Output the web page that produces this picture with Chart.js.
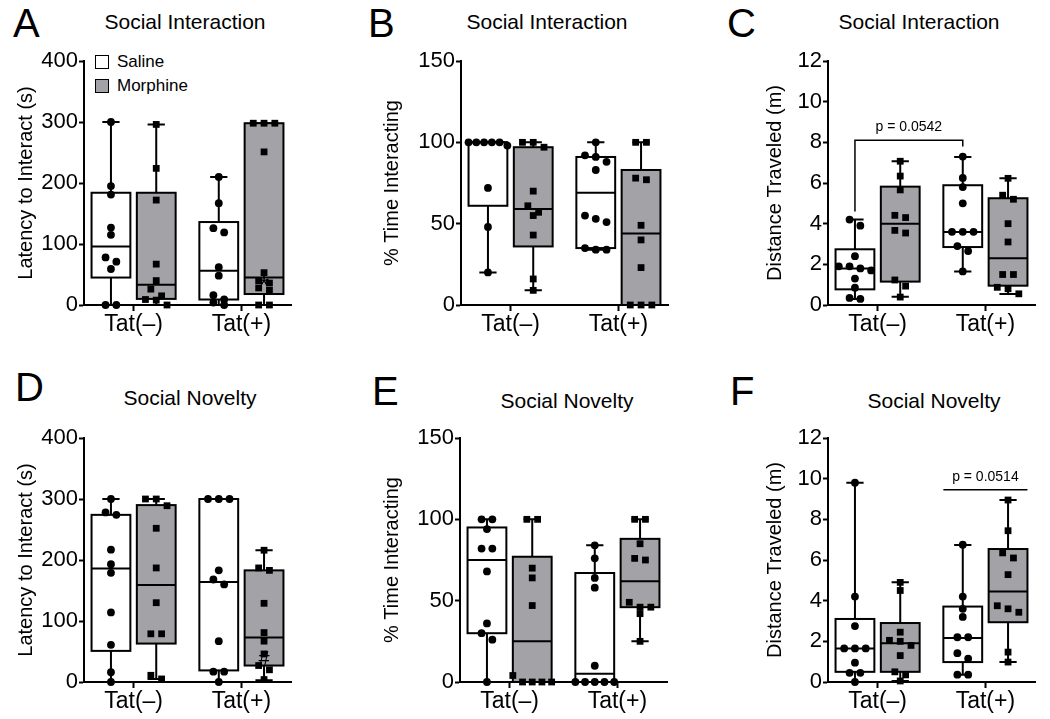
<!DOCTYPE html>
<html lang="en">
<head>
<meta charset="UTF-8">
<title>Social Interaction / Social Novelty</title>
<script src="https://cdn.jsdelivr.net/npm/chart.js"></script>
<style>
  body { margin:0; width:1050px; height:719px; position:relative; overflow:hidden; background:#fff;
         font-family:'Liberation Sans', Arial, sans-serif; color:#000; }
  canvas { position:absolute; }
  .letter { position:absolute; font-size:40px; line-height:40px; }
  .title { position:absolute; font-size:21px; line-height:21px; transform:translateX(-50%); white-space:nowrap; }
  .legend { position:absolute; font-size:17px; line-height:17px; white-space:nowrap; }
  .swatch { display:inline-block; width:12px; height:12px; border:1.5px solid #000; vertical-align:-2px; margin-right:8px; }
</style>
</head>
<body>
  <div class="letter" style="left:13px;top:3px">A</div>
  <div class="letter" style="left:368px;top:3px">B</div>
  <div class="letter" style="left:727px;top:3px">C</div>
  <div class="letter" style="left:15px;top:367px">D</div>
  <div class="letter" style="left:372px;top:371px">E</div>
  <div class="letter" style="left:730px;top:371px">F</div>

  <div class="title" style="left:185px;top:11px">Social Interaction</div>
  <div class="title" style="left:547px;top:11px">Social Interaction</div>
  <div class="title" style="left:919px;top:11px">Social Interaction</div>
  <div class="title" style="left:190px;top:387px">Social Novelty</div>
  <div class="title" style="left:567px;top:390px">Social Novelty</div>
  <div class="title" style="left:934px;top:390px">Social Novelty</div>

  <div class="legend" style="left:95px;top:53px"><span class="swatch" style="background:#fff"></span>Saline</div>
  <div class="legend" style="left:95px;top:77px"><span class="swatch" style="background:#a3a3a7"></span>Morphine</div>

  <canvas id="cA" width="300" height="341" style="left:0px;top:0px"></canvas>
  <canvas id="cB" width="300" height="341" style="left:377px;top:0px"></canvas>
  <canvas id="cC" width="300" height="341" style="left:744px;top:0px"></canvas>
  <canvas id="cD" width="300" height="341" style="left:0px;top:377px"></canvas>
  <canvas id="cE" width="300" height="341" style="left:376px;top:377px"></canvas>
  <canvas id="cF" width="300" height="341" style="left:744px;top:377px"></canvas>

<script>
const groupLabels = ['Tat(–)', 'Tat(+)'];
const groupPos = [1, 2];
const seriesNames = ['Saline', 'Morphine'];

// order of the four groups in every panel: Saline Tat(–), Morphine Tat(–), Saline Tat(+), Morphine Tat(+)
// boxes: [min, q1, median, q3, max]

// A - Social Interaction, latency (s)
const aSalNeg = [300, 195, 181, 127, 115, 78, 71, 59, 0, 0];
const aMorNeg = [296, 224, 172, 67, 40, 26, 15, 9, 8, 0];
const aSalPos = [210, 167, 126, 119, 62, 48, 16, 9, 4, 0];
const aMorPos = [298, 298, 298, 251, 53, 40, 36, 28, 24, 0, 0];
const aBoxes = [[0, 45, 96, 184, 300], [0, 10, 33, 184, 296], [0, 9, 56, 136, 210], [0, 18, 45, 298, 298]];

// B - Social Interaction, % time interacting
const bSalNeg = [100, 100, 100, 98, 100, 100, 72, 48, 20];
const bMorNeg = [100, 100, 97, 70, 61, 57, 55, 43, 16, 9];
const bSalPos = [100, 92, 91, 88, 83, 55, 53, 51, 35, 34, 34];
const bMorPos = [100, 100, 78, 77, 49, 40, 23, 0, 0, 0];
const bBoxes = [[20, 61, 100, 100, 100], [9, 36, 59, 97, 100], [34, 35, 69, 91, 100], [0, 0, 44, 83, 100]];

// C - Social Interaction, distance (m)
const cSalNeg = [4.2, 3.9, 2.4, 1.9, 1.9, 1.8, 1.7, 1.3, 0.85, 0.35, 0.3];
const cMorNeg = [7.07, 6.34, 5.66, 4.41, 4.3, 3.67, 3.54, 1.23, 0.93, 0.39];
const cSalPos = [7.3, 6.25, 5.8, 5.0, 3.6, 3.6, 3.6, 2.9, 2.65, 1.65];
const cMorPos = [6.23, 5.4, 5.2, 4.0, 3.1, 1.5, 1.5, 0.87, 0.8, 0.55];
const cBoxes = [[0.3, 0.77, 1.79, 2.74, 4.2], [0.4, 1.15, 4.0, 5.82, 7.07], [1.65, 2.85, 3.59, 5.89, 7.28], [0.54, 0.95, 2.3, 5.25, 6.23]];

// D - Social Novelty, latency (s)
const dSalNeg = [300, 278, 274, 217, 193, 179, 114, 61, 16, 0];
const dMorNeg = [300, 300, 289, 252, 187, 130, 79, 79, 11, 5];
const dSalPos = [300, 300, 300, 183, 168, 160, 67, 17, 17, 0];
const dMorPos = [216, 187, 183, 129, 81, 67, 46, 27, 20, 4];
const dBoxes = [[0, 51, 186, 274, 300], [5, 63, 159, 290, 300], [0, 19, 164, 300, 300], [3, 27, 73, 183, 216]];

// E - Social Novelty, % time interacting
const eSalNeg = [100, 100, 94, 82, 82, 68, 36, 30, 26, 0];
const eMorNeg = [100, 100, 70, 64, 47, 4, 0, 0, 0, 0];
const eSalPos = [84, 76, 64, 58, 10, 0, 0, 0, 0, 0];
const eMorPos = [100, 100, 85, 76, 75, 49, 46, 46, 42, 25];
const eBoxes = [[0, 30, 75, 95, 100], [0, 0, 25, 77, 100], [0, 0, 5, 67, 84], [25, 46, 62, 88, 100]];

// F - Social Novelty, distance (m)
const fSalNeg = [9.8, 4.2, 2.75, 1.65, 1.65, 1.65, 0.95, 0.45, 0.45, 0];
const fMorNeg = [4.9, 4.5, 2.45, 2.05, 2.0, 1.8, 1.3, 0.5, 0.35, 0.05];
const fSalPos = [6.75, 4.2, 3.6, 3.2, 2.2, 2.2, 1.42, 1.15, 0.36, 0.36];
const fMorPos = [8.95, 7.44, 6.35, 6.1, 5.28, 3.75, 3.6, 3.43, 1.47, 0.98];
const fBoxes = [[0, 0.5, 1.65, 3.1, 9.8], [0.05, 0.5, 1.9, 2.9, 4.9], [0.36, 0.98, 2.16, 3.71, 6.74], [0.98, 2.94, 4.45, 6.54, 8.95]];

// annotations
const cCompare = { groups: [0, 2], y: 8.1, legs: [4.6, 7.8], label: 'p = 0.0542' };
const fCompare = { groups: [2, 3], y: 9.45, label: 'p = 0.0514' };
const aMarks = [{ group: 3, y: 38, text: '*' }];
const dMarks = [{ group: 3, y: 37, text: '#' }];

const FONT = "'Liberation Sans', Arial, sans-serif";
const FILLS = ['#ffffff', '#a3a3a7'];
const OFFSET = 0.21, BOX_W = 0.36, CAP_W = 0.16;
const PLOT_H = 244;

Chart.defaults.font.family = FONT;
Chart.defaults.color = '#000';

const centerOf = i => groupPos[i >> 1] + (i % 2 ? OFFSET : -OFFSET);

// simple beeswarm: values within a few pixels of each other sit side by side
function swarm(values, center, yMax) {
  const pxPer = PLOT_H / yMax;
  const groups = [];
  values.slice().sort((a, b) => b - a).forEach(v => {
    const g = groups[groups.length - 1];
    if (g && (g[0] - v) * pxPer < 7) g.push(v); else groups.push([v]);
  });
  const pts = [];
  groups.forEach(g => {
    const step = g.length > 1 ? Math.min(0.1, 0.36 / (g.length - 1)) : 0;
    g.forEach((v, k) => pts.push({ x: center + (k - (g.length - 1) / 2) * step, y: v }));
  });
  return pts;
}

function boxPlugin(p) {
  return {
    id: 'box' + p.key,
    beforeDatasetsDraw(chart) {
      const { ctx, scales: { x, y } } = chart;
      ctx.save();
      ctx.strokeStyle = '#000';
      ctx.lineWidth = 2;
      p.boxes.forEach((b, i) => {
        const c = centerOf(i);
        const xl = x.getPixelForValue(c - BOX_W / 2), xr = x.getPixelForValue(c + BOX_W / 2);
        const xc = x.getPixelForValue(c);
        const cl = x.getPixelForValue(c - CAP_W / 2), cr = x.getPixelForValue(c + CAP_W / 2);
        const [mn, q1, md, q3, mx] = b.map(v => y.getPixelForValue(v));
        ctx.beginPath();
        ctx.moveTo(xc, q3); ctx.lineTo(xc, mx);
        ctx.moveTo(cl, mx); ctx.lineTo(cr, mx);
        ctx.moveTo(xc, q1); ctx.lineTo(xc, mn);
        ctx.moveTo(cl, mn); ctx.lineTo(cr, mn);
        ctx.stroke();
        ctx.fillStyle = FILLS[i % 2];
        ctx.fillRect(xl, q3, xr - xl, q1 - q3);
        ctx.strokeRect(xl, q3, xr - xl, q1 - q3);
        ctx.beginPath();
        ctx.moveTo(xl, md); ctx.lineTo(xr, md);
        ctx.stroke();
      });
      ctx.restore();
    },
    afterDatasetsDraw(chart) {
      const { ctx, scales: { x, y } } = chart;
      ctx.save();
      ctx.strokeStyle = '#000';
      ctx.fillStyle = '#000';
      ctx.lineWidth = 1.5;
      ctx.textAlign = 'center';
      if (p.compare) {
        const cmp = p.compare;
        const yy = y.getPixelForValue(cmp.y);
        let x1, x2;
        ctx.beginPath();
        if (cmp.legs) {
          x1 = x.getPixelForValue(centerOf(cmp.groups[0]));
          x2 = x.getPixelForValue(centerOf(cmp.groups[1]));
          ctx.moveTo(x1, y.getPixelForValue(cmp.legs[0]));
          ctx.lineTo(x1, yy); ctx.lineTo(x2, yy);
          ctx.lineTo(x2, y.getPixelForValue(cmp.legs[1]));
        } else {
          x1 = x.getPixelForValue(centerOf(cmp.groups[0]) - BOX_W / 2);
          x2 = x.getPixelForValue(centerOf(cmp.groups[1]) + BOX_W / 2);
          ctx.moveTo(x1, yy); ctx.lineTo(x2, yy);
        }
        ctx.stroke();
        ctx.font = '14px ' + FONT;
        ctx.textBaseline = 'alphabetic';
        ctx.fillText(cmp.label, (x1 + x2) / 2, yy - 9);
      }
      (p.marks || []).forEach(m => {
        ctx.font = (m.text === '*' ? '26px ' : '20px ') + FONT;
        ctx.textBaseline = 'middle';
        ctx.fillText(m.text, x.getPixelForValue(centerOf(m.group)), y.getPixelForValue(m.y) + (m.text === '*' ? 5 : 0));
      });
      ctx.restore();
    }
  };
}

const panels = [
  { key: 'A', yMax: 400, yStep: 100, yTitle: 'Latency to Interact (s)', titlePad: 14, points: [aSalNeg, aMorNeg, aSalPos, aMorPos], boxes: aBoxes, marks: aMarks },
  { key: 'B', yMax: 150, yStep: 50, yTitle: '% Time Interacting', titlePad: 3, points: [bSalNeg, bMorNeg, bSalPos, bMorPos], boxes: bBoxes },
  { key: 'C', yMax: 12, yStep: 2, yTitle: 'Distance Traveled (m)', titlePad: 19, points: [cSalNeg, cMorNeg, cSalPos, cMorPos], boxes: cBoxes, compare: cCompare },
  { key: 'D', yMax: 400, yStep: 100, yTitle: 'Latency to Interact (s)', titlePad: 14, points: [dSalNeg, dMorNeg, dSalPos, dMorPos], boxes: dBoxes, marks: dMarks },
  { key: 'E', yMax: 150, yStep: 50, yTitle: '% Time Interacting', titlePad: 4, points: [eSalNeg, eMorNeg, eSalPos, eMorPos], boxes: eBoxes },
  { key: 'F', yMax: 12, yStep: 2, yTitle: 'Distance Traveled (m)', titlePad: 19, points: [fSalNeg, fMorNeg, fSalPos, fMorPos], boxes: fBoxes, compare: fCompare }
];

panels.forEach(p => {
  const datasets = p.points.map((vals, i) => ({
    label: seriesNames[i % 2] + ' ' + groupLabels[i >> 1],
    data: swarm(vals, centerOf(i), p.yMax),
    pointStyle: i % 2 ? 'rect' : 'circle',
    pointRadius: i % 2 ? 4.8 : 3.9,
    backgroundColor: '#000',
    borderColor: '#000',
    borderWidth: 0,
    clip: false
  }));

  new Chart(document.getElementById('c' + p.key), {
    type: 'scatter',
    data: { datasets },
    options: {
      responsive: false,
      animation: false,
      events: [],
      layout: { padding: { top: 61, right: 9, left: 0, bottom: 0 } },
      plugins: { legend: { display: false }, tooltip: { enabled: false } },
      scales: {
        x: {
          type: 'linear', min: 0.54, max: 2.46,
          afterBuildTicks: s => { s.ticks = groupPos.map(v => ({ value: v })); },
          afterFit: s => { s.height = 36; },
          ticks: { callback: (v, i) => groupLabels[i], font: { size: 23 }, color: '#000', padding: 0, autoSkip: false, maxRotation: 0 },
          grid: { drawOnChartArea: false, tickLength: 6, tickColor: '#000', tickWidth: 2 },
          border: { display: true, color: '#000', width: 2 }
        },
        y: {
          min: 0, max: p.yMax,
          afterFit: s => { s.width = 84; },
          ticks: { stepSize: p.yStep, font: { size: 22 }, color: '#000', padding: 1 },
          grid: { drawOnChartArea: false, tickLength: 5, tickColor: '#000', tickWidth: 2 },
          border: { display: true, color: '#000', width: 2 },
          title: { display: true, text: p.yTitle, color: '#000', font: { size: 20 }, padding: { top: p.titlePad, bottom: 0 } }
        }
      }
    },
    plugins: [boxPlugin(p)]
  });
});
</script>
</body>
</html>
